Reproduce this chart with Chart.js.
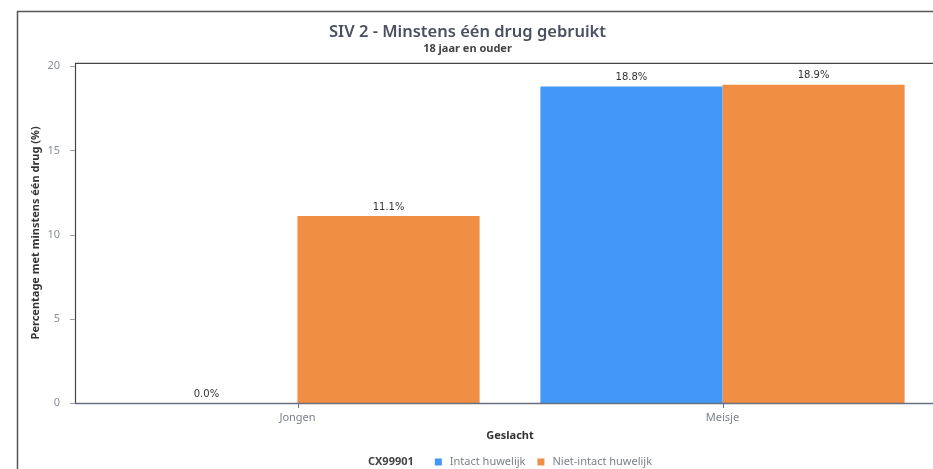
<!DOCTYPE html>
<html>
<head>
<meta charset="utf-8">
<script src="https://cdn.jsdelivr.net/npm/chart.js@4"></script>
<style>
  html, body { margin: 0; padding: 0; overflow: hidden; background: #fff; }
  #wrap { position: absolute; left: 0; top: 0; width: 1020px; height: 469px; }
</style>
</head>
<body>
<div id="wrap"><canvas id="chart" width="1020" height="469"></canvas></div>
<script>
const categories = ['Jongen', 'Meisje'];
const seriesNames = ['Intact huwelijk', 'Niet-intact huwelijk'];
const intact = [0.0, 18.8];
const nietIntact = [11.1, 18.9];
const yTicks = [0, 5, 10, 15, 20];
const legendTitle = 'CX99901';

const BLUE = '#4398f7';
const ORANGE = '#f08e44';
const FONT = '"Noto Sans", "Open Sans", sans-serif';

// frame, axis lines, tick marks, value labels and the inline legend
const decor = {
    id: 'decor',
    beforeDraw(chart) {
        const ctx = chart.ctx;
        ctx.save();
        ctx.strokeStyle = '#555';
        ctx.lineWidth = 1.5;
        ctx.beginPath();
        ctx.moveTo(17.5, 469);
        ctx.lineTo(17.5, 11.5);
        ctx.lineTo(chart.width, 11.5);
        ctx.stroke();
        ctx.restore();
    },
    afterDraw(chart) {
        const ctx = chart.ctx;
        const area = chart.chartArea;
        const y = chart.scales.y, x = chart.scales.x;
        const axisX = area.left - 10;
        ctx.save();

        // top border + y axis line
        ctx.strokeStyle = '#444';
        ctx.lineWidth = 1.2;
        ctx.beginPath();
        ctx.moveTo(chart.width, area.top + 0.5);
        ctx.lineTo(axisX + 0.5, area.top + 0.5);
        ctx.lineTo(axisX + 0.5, area.bottom);
        ctx.stroke();

        // y tick marks
        ctx.strokeStyle = '#9aa0aa';
        ctx.lineWidth = 1;
        yTicks.forEach(v => {
            const py = Math.round(y.getPixelForValue(v)) + 0.5;
            ctx.beginPath();
            ctx.moveTo(axisX - 5, py);
            ctx.lineTo(axisX, py);
            ctx.stroke();
        });

        // x axis line + tick marks
        ctx.strokeStyle = '#687080';
        ctx.lineWidth = 1.5;
        ctx.beginPath();
        ctx.moveTo(axisX, area.bottom + 0.5);
        ctx.lineTo(chart.width, area.bottom + 0.5);
        ctx.stroke();
        ctx.lineWidth = 1;
        categories.forEach((c, i) => {
            const px = Math.round(x.getPixelForValue(i)) + 0.5;
            ctx.beginPath();
            ctx.moveTo(px, area.bottom);
            ctx.lineTo(px, area.bottom + 5);
            ctx.stroke();
        });

        // value labels
        ctx.fillStyle = '#333';
        ctx.font = '10px "DejaVu Sans", sans-serif';
        ctx.textAlign = 'center';
        ctx.textBaseline = 'middle';
        chart.data.datasets.forEach((ds, di) => {
            chart.getDatasetMeta(di).data.forEach((bar, i) => {
                ctx.fillText(ds.data[i].toFixed(1) + '%', bar.x, bar.y - 9);
            });
        });

        // legend
        const ly = 462;
        ctx.textAlign = 'left';
        ctx.font = 'bold 11px ' + FONT;
        const titleW = ctx.measureText(legendTitle).width;
        ctx.font = '11px ' + FONT;
        const items = chart.data.datasets.map(ds => ({
            label: ds.label, color: ds.backgroundColor, w: ctx.measureText(ds.label).width
        }));
        let total = titleW + 21;
        items.forEach((it, i) => { total += 7 + 8 + it.w + (i < items.length - 1 ? 12 : 0); });
        let lx = (area.left + area.right) / 2 - total / 2;
        ctx.font = 'bold 11px ' + FONT;
        ctx.fillStyle = '#444';
        ctx.fillText(legendTitle, lx, ly);
        lx += titleW + 21;
        ctx.font = '11px ' + FONT;
        items.forEach(it => {
            ctx.fillStyle = it.color;
            ctx.fillRect(lx, ly - 3.5, 7, 7);
            lx += 15;
            ctx.fillStyle = '#7a7f88';
            ctx.fillText(it.label, lx, ly);
            lx += it.w + 12;
        });
        ctx.restore();
    }
};

new Chart(document.getElementById('chart'), {
    type: 'bar',
    data: {
        labels: categories,
        datasets: [
            { label: seriesNames[0], data: intact, backgroundColor: BLUE },
            { label: seriesNames[1], data: nietIntact, backgroundColor: ORANGE }
        ]
    },
    options: {
        responsive: false,
        animation: false,
        devicePixelRatio: 1,
        layout: { padding: { top: 11, right: 85, bottom: 0, left: 0 } },
        datasets: { bar: { categoryPercentage: 0.857, barPercentage: 1 } },
        plugins: {
            legend: { display: false },
            tooltip: { enabled: false },
            title: {
                display: true,
                text: 'SIV 2 - Minstens één drug gebruikt',
                color: '#4a5060',
                font: { family: FONT, size: 16.5, weight: '600' },
                padding: { top: 11, bottom: 0 }
            },
            subtitle: {
                display: true,
                text: '18 jaar en ouder',
                color: '#444',
                font: { family: FONT, size: 11, weight: 'bold' },
                padding: { top: 0, bottom: 7.8 }
            }
        },
        scales: {
            x: {
                grid: { display: false },
                border: { display: false },
                ticks: { color: '#7a808c', padding: 0, font: { family: FONT, size: 11 } },
                title: {
                    display: true, text: 'Geslacht', color: '#333',
                    font: { family: FONT, size: 11, weight: 'bold' },
                    padding: { top: 0, bottom: 27 }
                },
                afterFit: s => { s.height = 66; }
            },
            y: {
                min: 0,
                max: 20.2,
                grid: { display: false },
                border: { display: false },
                afterBuildTicks: s => { s.ticks = yTicks.map(v => ({ value: v })); },
                ticks: { color: '#8a8f9a', padding: 17, font: { family: FONT, size: 11 } },
                title: {
                    display: true, text: 'Percentage met minstens één drug (%)', color: '#333',
                    font: { family: FONT, size: 11, weight: 'bold' },
                    padding: { top: 29, bottom: 0 }
                },
                afterFit: s => { s.width = 85; }
            }
        }
    },
    plugins: [decor]
});
</script>
</body>
</html>
